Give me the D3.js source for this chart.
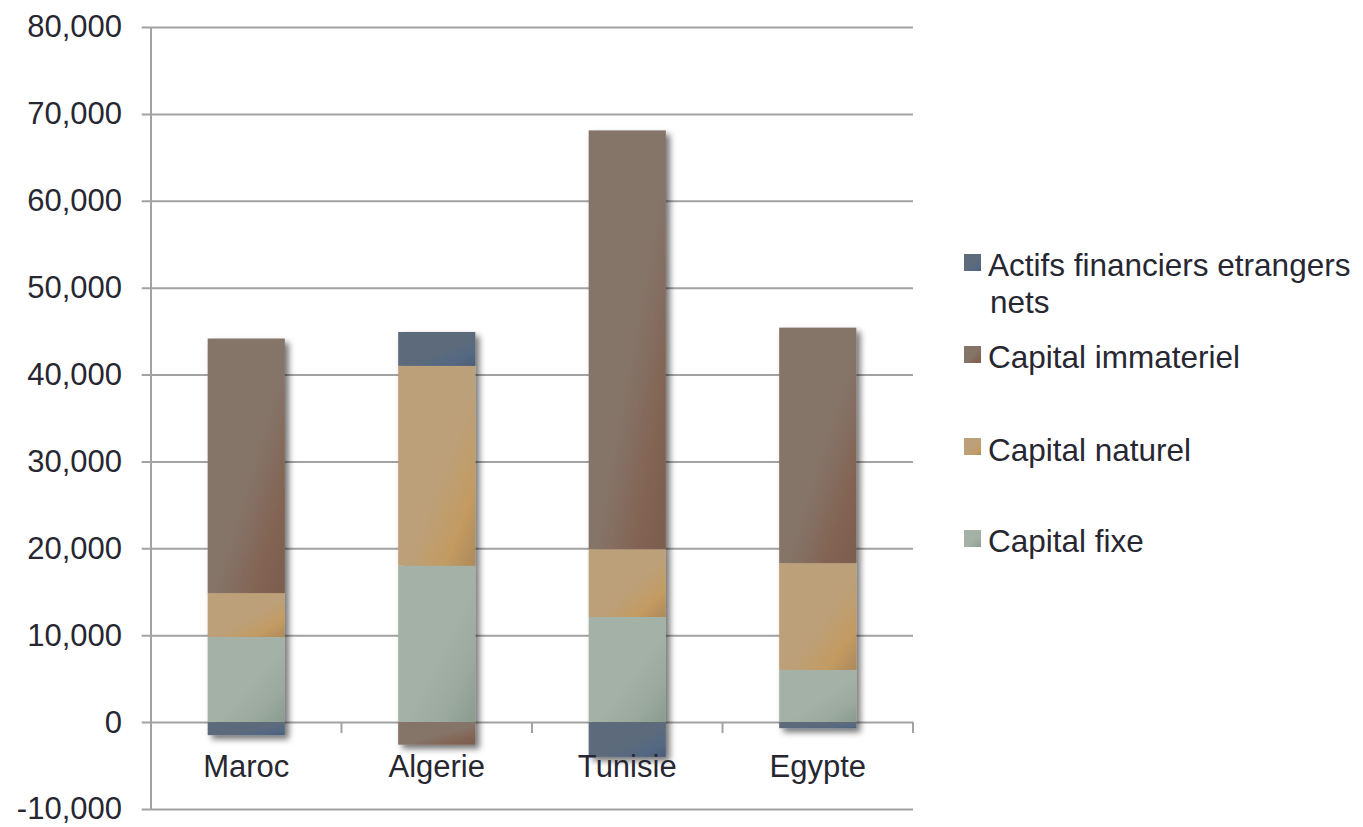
<!DOCTYPE html>
<html>
<head>
<meta charset="utf-8">
<script src="https://cdn.jsdelivr.net/npm/d3@7"></script>
<style>
  body { margin: 0; background: #fff; }
  text { font-family: "Liberation Sans", Arial, sans-serif; fill: #272732; }
</style>
</head>
<body>
<div id="chart"></div>
<script>
const categories = ['Maroc', 'Algerie', 'Tunisie', 'Egypte']
const capitalFixe = [9800, 18000, 12100, 6000]
const capitalNaturel = [5050, 23000, 7800, 12300]
const capitalImmateriel = [29300, -2600, 48200, 27100]
const actifsFinanciers = [-1500, 3900, -4000, -700]
const seriesNames = ['Capital fixe', 'Capital naturel', 'Capital immateriel', 'Actifs financiers etrangers nets']
const yTicks = [-10000, 0, 10000, 20000, 30000, 40000, 50000, 60000, 70000, 80000]

const Width = 1363
const Height = 827
const plotLeft = 151, plotRight = 913, plotTop = 27, plotBottom = 809

// base colour, darker corner colour, highlight colour
const colours = [
    ['#a4b1a7', '#8a9b8e', '#9aa89d'],
    ['#bca079', '#ad8a5a', '#c39b62'],
    ['#857469', '#7a5e4f', '#836453'],
    ['#5d6b7b', '#4a5e77', '#546883']
]

const rows = categories.map((c, i) => ({
    cat: c,
    s0: capitalFixe[i],
    s1: capitalNaturel[i],
    s2: capitalImmateriel[i],
    s3: actifsFinanciers[i]
}))
const keys = ['s0', 's1', 's2', 's3']

const stacked = d3.stack()
    .keys(keys)
    .offset(d3.stackOffsetDiverging)(rows)

const svg = d3.select('#chart')
    .append('svg')
    .attr('width', Width)
    .attr('height', Height)

const defs = svg.append('defs')
const shadow = defs.append('filter')
    .attr('id', 'shadow')
    .attr('x', '-20%').attr('y', '-20%')
    .attr('width', '150%').attr('height', '150%')
shadow.append('feDropShadow')
    .attr('dx', 4).attr('dy', 4)
    .attr('stdDeviation', 3)
    .attr('flood-color', '#000')
    .attr('flood-opacity', 0.55)

colours.forEach((c, i) => {
    const g = defs.append('linearGradient')
        .attr('id', 'grad' + i)
        .attr('x1', 0).attr('y1', 0).attr('x2', 1).attr('y2', 1)
    g.append('stop').attr('offset', '0%').attr('stop-color', c[0])
    g.append('stop').attr('offset', '55%').attr('stop-color', c[0])
    g.append('stop').attr('offset', '80%').attr('stop-color', c[2])
    g.append('stop').attr('offset', '100%').attr('stop-color', c[1])
})

const y = d3.scaleLinear()
    .domain([-10000, 80000])
    .range([plotBottom, plotTop])

const x = d3.scaleBand()
    .domain(categories)
    .range([plotLeft, plotRight])
    .paddingInner(0.595)
    .paddingOuter(0.2975)

const xCat = d3.scaleBand()
    .domain(categories)
    .range([plotLeft, plotRight])
    .padding(0)

const fmt = d3.format(',')

// gridlines + y labels
const yAxisCall = d3.axisLeft(y)
    .tickValues(yTicks)
    .tickSize(-(plotRight - 141.7))
    .tickPadding(19.7)
    .tickFormat(d => fmt(d).replace('\u2212', '-'))
const yAxis = svg.append('g')
    .attr('transform', 'translate(141.7,0)')
    .call(yAxisCall)
yAxis.select('.domain').remove()
yAxis.selectAll('line')
    .attr('stroke', '#a2a2a2')
    .attr('stroke-width', 2)
yAxis.selectAll('text')
    .attr('font-size', 31)
    .attr('font-family', '"Liberation Sans", Arial, sans-serif')
    .attr('fill', '#272732')

svg.append('line')
    .attr('x1', plotLeft).attr('x2', plotLeft)
    .attr('y1', plotTop).attr('y2', plotBottom)
    .attr('stroke', '#a2a2a2')
    .attr('stroke-width', 2)

// category tick marks on the zero line
const xTickPos = categories.map(c => xCat(c) + xCat.bandwidth())
svg.append('g')
    .selectAll('line')
    .data(xTickPos)
    .enter().append('line')
    .attr('x1', d => d).attr('x2', d => d)
    .attr('y1', y(0)).attr('y2', y(0) + 11)
    .attr('stroke', '#a2a2a2')
    .attr('stroke-width', 2)

// bars
const bars = svg.append('g').attr('filter', 'url(#shadow)')
bars.selectAll('g')
    .data(stacked)
    .enter().append('g')
    .attr('fill', (d, i) => 'url(#grad' + i + ')')
    .selectAll('rect')
    .data(d => d)
    .enter().append('rect')
    .attr('x', d => x(d.data.cat))
    .attr('y', d => y(Math.max(d[0], d[1])))
    .attr('width', x.bandwidth())
    .attr('height', d => Math.abs(y(d[0]) - y(d[1])))

// category labels
svg.append('g')
    .selectAll('text')
    .data(categories)
    .enter().append('text')
    .attr('x', d => xCat(d) + xCat.bandwidth() / 2)
    .attr('y', 777)
    .attr('text-anchor', 'middle')
    .attr('font-size', 31)
    .text(d => d)

// legend
const legendItems = [
    { idx: 3, lines: ['Actifs financiers etrangers', 'nets'], sq: 254, base: 276 },
    { idx: 2, lines: ['Capital immateriel'], sq: 346, base: 368 },
    { idx: 1, lines: ['Capital naturel'], sq: 438, base: 461 },
    { idx: 0, lines: ['Capital fixe'], sq: 530, base: 552 }
]
const legend = svg.append('g')
legendItems.forEach(item => {
    legend.append('rect')
        .attr('x', 964).attr('y', item.sq)
        .attr('width', 17).attr('height', 17)
        .attr('fill', 'url(#grad' + item.idx + ')')
    const t = legend.append('text')
        .attr('x', 988)
        .attr('y', item.base)
        .attr('font-size', 31.5)
    item.lines.forEach((l, j) => {
        t.append('tspan')
            .attr('x', j === 0 ? 988 : 990)
            .attr('dy', j === 0 ? 0 : 37)
            .text(l)
    })
})
</script>
</body>
</html>
